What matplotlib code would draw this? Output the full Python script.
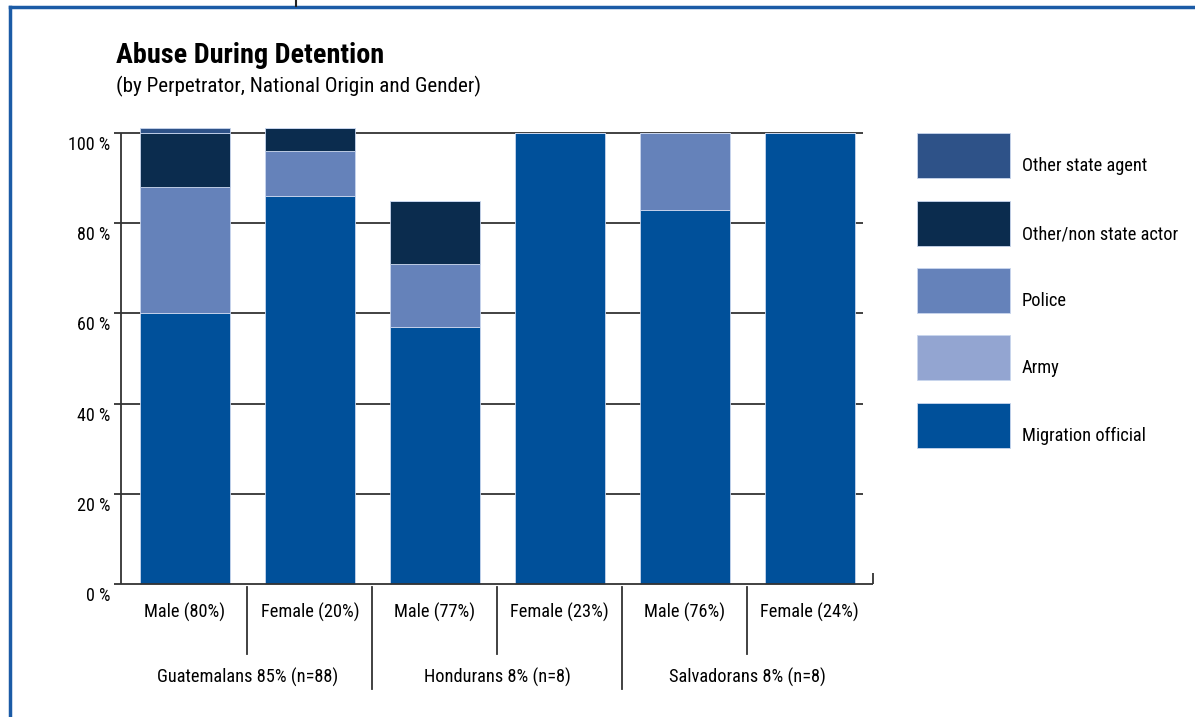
import matplotlib
matplotlib.use("Agg")
import matplotlib.pyplot as plt
import matplotlib.transforms as mtransforms
from matplotlib.patches import Rectangle
import numpy as np

plt.rcParams['font.family'] = ['Roboto Condensed', 'Lato', 'DejaVu Sans']

# data (percent of abuse cases)
bar_labels = ["Male (80%)", "Female (20%)", "Male (77%)",
              "Female (23%)", "Male (76%)", "Female (24%)"]
group_labels = ["Guatemalans 85% (n=88)", "Hondurans 8% (n=8)",
                "Salvadorans 8% (n=8)"]
migration = [60, 86, 57, 100, 83, 100]
army = [0, 0, 0, 0, 0, 0]
police = [28, 10, 14, 0, 17, 0]
non_state = [12, 5, 14, 0, 0, 0]
other_state = [1, 0, 0, 0, 0, 0]

series = ["Migration official", "Army", "Police",
          "Other/non state actor", "Other state agent"]
colors = ["#00509a", "#93a5d1", "#6582ba", "#0b2c4e", "#2e5288"]
values = [migration, army, police, non_state, other_state]

ytick_vals = [0, 20, 40, 60, 80, 100]

W, H = 1195, 717
fig = plt.figure(figsize=(W / 100, H / 100), dpi=100)

# outer blue frame (top and left edges only)
fig.add_artist(plt.Line2D([9.5 / W, 1], [1 - 7 / H, 1 - 7 / H], color="#1b5ba6", lw=2.5))
fig.add_artist(plt.Line2D([9.5 / W, 9.5 / W], [0, 1 - 7 / H], color="#1b5ba6", lw=2.5))
fig.add_artist(plt.Line2D([295.5 / W, 295.5 / W], [1 - 6 / H, 1], color="#222222", lw=1.5))

# title
fig.text(116 / W, 1 - 63 / H, "Abuse During Detention", fontsize=20.3,
         fontweight="bold", va="baseline", ha="left")
fig.text(116 / W, 1 - 92 / H, "(by Perpetrator, National Origin and Gender)",
         fontsize=15.2, va="baseline", ha="left")

ax = fig.add_axes([121 / W, 1 - 584 / H, 752 / W, 451 / H])
px = 1 / 125.0  # one pixel in x data units
x = np.arange(len(bar_labels))
ax.set_xlim(-64 * px, 5 + 63.5 * px)
ax.set_ylim(0, 100)
for s in ax.spines.values():
    s.set_visible(False)
ax.set_xticks([])
ax.set_yticks([])

# gridlines and axis lines
grid_color = "#333333"
ax.hlines(ytick_vals[1:], -71 * px, 5 + 53 * px, color=grid_color, lw=1.3,
          zorder=1, clip_on=False)
ax.hlines(0, -71 * px, 5 + 63.5 * px, color=grid_color, lw=1.3, zorder=3, clip_on=False)
ax.vlines(-64 * px, 0, 100, color=grid_color, lw=1.3, zorder=3, clip_on=False)
ax.vlines(5 + 63.5 * px, 0, 2.4, color=grid_color, lw=1.3, zorder=3, clip_on=False)

# stacked bars
bottom = np.zeros(len(x))
for name, vals, c in zip(series, values, colors):
    vals = np.array(vals, dtype=float)
    ax.bar(x, vals, width=0.72, bottom=bottom, color=c, edgecolor="#c9d6ee",
           lw=0.6, zorder=2, clip_on=False)
    bottom += vals

# y tick labels, set a little below the gridlines
ylab_tr = ax.get_yaxis_transform() + mtransforms.ScaledTranslation(
    -11 / 100, -12 / 100, fig.dpi_scale_trans)
for v in ytick_vals:
    ax.text(0, v, f"{v} %", transform=ylab_tr, ha="right", va="center", fontsize=13)

# category labels and separators
xlab_tr = ax.get_xaxis_transform()
for i, lab in enumerate(bar_labels):
    ax.text(i, -28 / 451, lab, transform=xlab_tr, ha="center", va="center",
            fontsize=13.2, clip_on=False)
for g, lab in enumerate(group_labels):
    ax.text(2 * g + 0.5, -93 / 451, lab, transform=xlab_tr, ha="center",
            va="center", fontsize=13.2, clip_on=False)
for k in range(5):
    bottom_px = 654 if k % 2 == 0 else 689
    ax.plot([k + 0.5, k + 0.5], [-3 / 451, -(bottom_px - 584) / 451],
            transform=xlab_tr, color=grid_color, lw=1.3, clip_on=False)

# legend, drawn as boxes on the right
leg_tops = [133, 201, 268, 335, 403]
for (name, c), top in zip(reversed(list(zip(series, colors))), leg_tops):
    fig.add_artist(Rectangle((917 / W, 1 - (top + 45) / H), 93 / W, 45 / H,
                             facecolor=c, edgecolor="#c9d6ee", lw=0.6))
    fig.text(1022 / W, 1 - (top + 33) / H, name, fontsize=13.2, va="center", ha="left")

fig.savefig("out.png", dpi=100)
